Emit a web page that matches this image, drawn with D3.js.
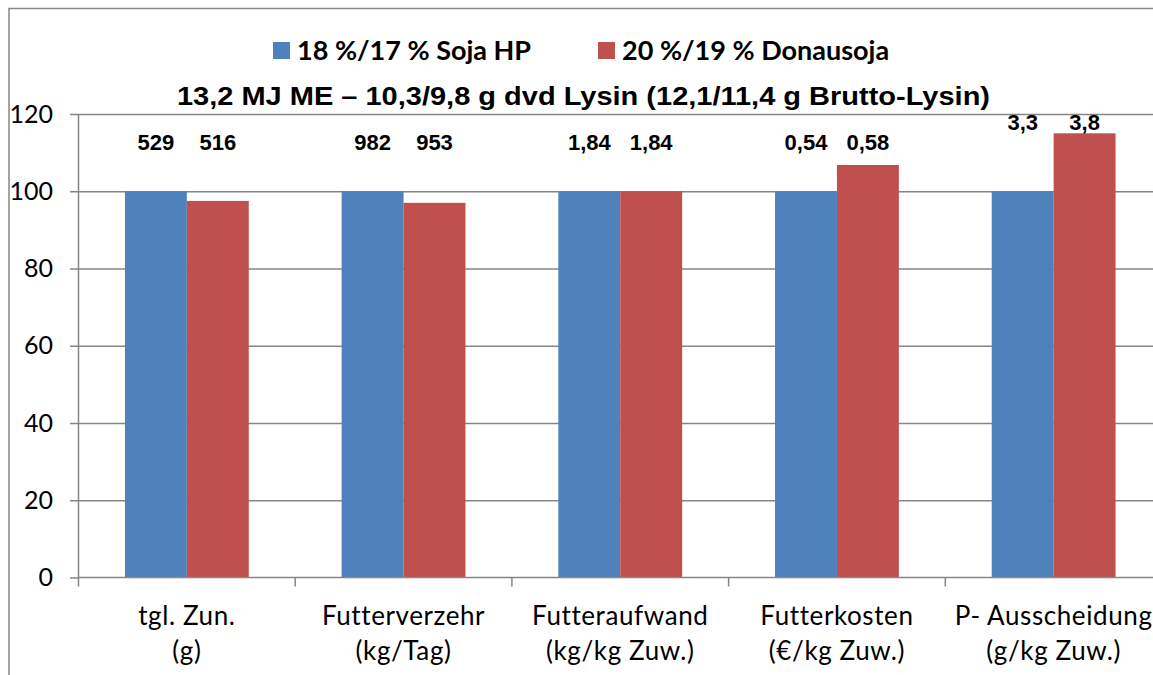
<!DOCTYPE html>
<html>
<head>
<meta charset="utf-8">
<script src="https://cdn.jsdelivr.net/npm/d3@7"></script>
<style>
  body { margin: 0; background: #fff; }
  svg { display: block; }
  .grid line { stroke: #868686; stroke-width: 1.5; }
  .grid path { display: none; }
</style>
</head>
<body>
<svg width="1153" height="675"></svg>
<script>
// chart data (relative values, first series = 100)
var categories = ["tgl. Zun.|(g)", "Futterverzehr|(kg/Tag)", "Futteraufwand|(kg/kg Zuw.)",
                  "Futterkosten|(€/kg Zuw.)", "P- Ausscheidung|(g/kg Zuw.)"];
var seriesNames = ["18 %/17 % Soja HP", "20 %/19 % Donausoja"];
var sojaHP = [100, 100, 100, 100, 100];
var donausoja = [97.5, 97, 100, 106.8, 115];
// absolute values shown as labels
var labelsHP = ["529", "982", "1,84", "0,54", "3,3"];
var labelsDonau = ["516", "953", "1,84", "0,58", "3,8"];
var yTicks = [0, 20, 40, 60, 80, 100, 120];
var colors = ["#4F81BD", "#C0504D"];
var title = "13,2 MJ ME \u2013 10,3/9,8 g dvd Lysin (12,1/11,4 g Brutto-Lysin)";

var svg = d3.select("svg"),
    margin = {top: 114, left: 78.5, bottom: 577.5},
    right = 78.5 + 5 * 216.7;

// outer chart border (runs off the right/bottom of the picture)
svg.append("rect")
    .attr("x", 9).attr("y", 8.5)
    .attr("width", 1300).attr("height", 900)
    .attr("fill", "none")
    .attr("stroke", "#868686")
    .attr("stroke-width", 1.5);

var x0 = d3.scaleBand().domain(categories).range([margin.left, right]).padding(0);
var barW = x0.bandwidth() / 3.5;
var x1 = d3.scaleBand().domain([0, 1]).range([-barW, barW]);
var y = d3.scaleLinear().domain([0, 120]).range([margin.bottom, margin.top]);

// horizontal gridlines with left ticks
svg.append("g")
    .attr("class", "grid")
    .attr("transform", "translate(" + margin.left + ",0)")
    .call(d3.axisLeft(y).tickValues(yTicks.slice(1)).tickSize(-(right - margin.left)).tickFormat(""));
svg.append("g")
    .attr("class", "grid")
    .attr("transform", "translate(" + margin.left + ",0)")
    .call(d3.axisLeft(y).tickValues(yTicks).tickSize(8.5).tickFormat(""));

// y tick labels
svg.append("g").selectAll("text")
    .data(yTicks)
    .enter().append("text")
    .attr("x", 53)
    .attr("y", function(d) { return y(d) + 8.5; })
    .attr("text-anchor", "end")
    .style("font-family", "Lato, sans-serif")
    .style("font-size", "25px")
    .attr("fill", "#000")
    .text(function(d) { return d; });

// bars
var groups = svg.append("g").selectAll("g")
    .data(categories)
    .enter().append("g")
    .attr("transform", function(d) { return "translate(" + (x0(d) + x0.bandwidth() / 2) + ",0)"; });

groups.selectAll("rect")
    .data(function(d, i) { return [sojaHP[i], donausoja[i]]; })
    .enter().append("rect")
    .attr("x", function(d, j) { return x1(j); })
    .attr("width", barW)
    .attr("y", function(d) { return y(d); })
    .attr("height", function(d) { return y(0) - y(d); })
    .attr("fill", function(d, j) { return colors[j]; });

// x axis line and category ticks
svg.append("line")
    .attr("x1", margin.left).attr("x2", right)
    .attr("y1", y(0)).attr("y2", y(0))
    .attr("stroke", "#868686").attr("stroke-width", 1.5);
svg.append("g").selectAll("line")
    .data(d3.range(categories.length + 1))
    .enter().append("line")
    .attr("x1", function(i) { return margin.left + i * x0.bandwidth(); })
    .attr("x2", function(i) { return margin.left + i * x0.bandwidth(); })
    .attr("y1", y(0)).attr("y2", y(0) + 9)
    .attr("stroke", "#868686").attr("stroke-width", 1.5);
// left axis line
svg.append("line")
    .attr("x1", margin.left).attr("x2", margin.left)
    .attr("y1", y(120)).attr("y2", y(0))
    .attr("stroke", "#868686").attr("stroke-width", 1.5);

// category labels (two lines)
groups.append("text")
    .attr("text-anchor", "middle")
    .style("font-family", "Lato, sans-serif")
    .style("font-size", "26px")
    .style("letter-spacing", "0.6px")
    .attr("fill", "#000")
    .each(function(d) {
      var parts = d.split("|");
      d3.select(this).append("tspan").attr("x", 0).attr("y", 625).text(parts[0]);
      d3.select(this).append("tspan").attr("x", 0).attr("y", 660).text(parts[1]);
    });

// value labels above groups
groups.selectAll("text.val")
    .data(function(d, i) {
      var top = Math.max(sojaHP[i], donausoja[i], 109.8);
      return [{v: labelsHP[i], j: 0, top: top}, {v: labelsDonau[i], j: 1, top: top}];
    })
    .enter().append("text")
    .attr("class", "val")
    .attr("x", function(d) { return x1(d.j) + barW / 2; })
    .attr("y", function(d) { return y(d.top) - 3; })
    .attr("text-anchor", "middle")
    .style("font-family", "'Liberation Sans', Arial, sans-serif")
    .style("font-weight", "bold")
    .style("font-size", "22px")
    .attr("fill", "#000")
    .text(function(d) { return d.v; });

// legend
var legend = svg.append("g");
var legendX = [273, 598];
seriesNames.forEach(function(name, j) {
  legend.append("rect")
      .attr("x", legendX[j]).attr("y", 42)
      .attr("width", 17).attr("height", 17)
      .attr("fill", colors[j]);
  legend.append("text")
      .attr("x", legendX[j] + 24).attr("y", 60)
      .style("font-family", "Lato, sans-serif")
      .style("font-weight", "bold")
      .style("font-size", "27px")
      .attr("fill", "#000")
      .text(name);
});

// title (stretched like the original)
svg.append("text")
    .attr("x", 177).attr("y", 105)
    .attr("textLength", 813)
    .attr("lengthAdjust", "spacingAndGlyphs")
    .style("font-family", "'Liberation Sans', Arial, sans-serif")
    .style("font-weight", "bold")
    .style("font-size", "25px")
    .attr("fill", "#000")
    .text(title);
</script>
</body>
</html>
